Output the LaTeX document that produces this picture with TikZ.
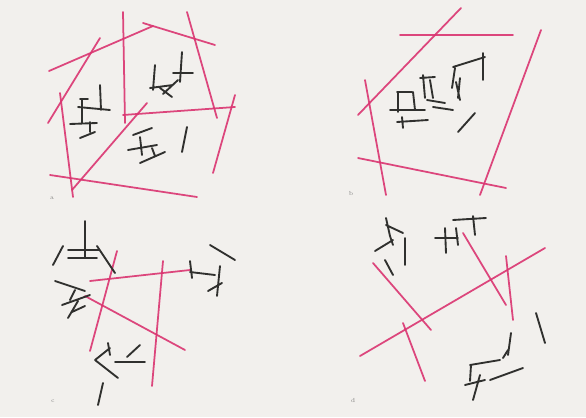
\documentclass[tikz,border=0pt]{standalone}
\usepackage{tikz}
\usepackage{xcolor}
\definecolor{paper}{RGB}{242,240,237}
\definecolor{rose}{RGB}{218,52,112}
\definecolor{ink}{RGB}{48,48,46}

\begin{document}
\begin{tikzpicture}[
x=0.03cm, y=-0.03cm,
pinkline/.style={draw=rose, line width=1.5pt, line cap=round, opacity=0.9},
stroke/.style={draw=ink, line width=1.6pt, line cap=round},
tag/.style={font=\tiny, text=ink!60}
]
\fill[paper] (0,0) rectangle (586,417);
\useasboundingbox (0,0) rectangle (586,417);

% panel a
\draw[pinkline] (49,71) -- (153,26);
\draw[pinkline] (143,23) -- (215,45);
\draw[pinkline] (123,12) -- (125,123);
\draw[pinkline] (187,12) -- (217,118);
\draw[pinkline] (48,123) -- (100,38);
\draw[pinkline] (60,93) -- (73,197);
\draw[pinkline] (50,175) -- (197,197);
\draw[pinkline] (72,190) -- (147,103);
\draw[pinkline] (123,115) -- (235,107);
\draw[pinkline] (235,95) -- (213,173);
\draw[stroke] (100,85) -- (101,110) (78,107) -- (110,110) (82,100) -- (82,123)
  (80,99) -- (88,99) (70,124) -- (97,123) (90,122) -- (90,132) (80,138) -- (95,132);
\draw[stroke] (155,65) -- (153,90) (182,52) -- (180,82) (173,73) -- (193,73)
  (150,88) -- (173,85) (163,94) -- (178,80) (160,88) -- (172,97);
\draw[stroke] (133,135) -- (152,128) (128,150) -- (157,145) (140,137) -- (142,155)
  (140,163) -- (165,152) (152,148) -- (155,156) (182,152) -- (187,127);
\node[tag] (taga) at (52,198) {a};

% panel b
\draw[pinkline] (358,115) -- (461,8);
\draw[pinkline] (400,35) -- (513,35);
\draw[pinkline] (365,80) -- (386,195);
\draw[pinkline] (358,158) -- (506,188);
\draw[pinkline] (541,30) -- (480,195);
\draw[stroke] (453,67) -- (485,57) (483,53) -- (483,80) (455,68) -- (452,88)
  (460,78) -- (458,98) (456,82) -- (460,100);
\draw[stroke] (420,78) -- (435,77) (423,75) -- (425,98) (430,80) -- (433,98)
  (397,92) -- (412,92) (398,92) -- (398,112) (413,92) -- (415,110)
  (427,100) -- (445,103) (390,110) -- (425,110) (402,117) -- (403,128)
  (397,122) -- (428,120) (433,107) -- (453,110) (458,132) -- (475,113);
\node[tag] (tagb) at (351,193) {b};

% panel c
\draw[pinkline] (117,251) -- (90,351);
\draw[pinkline] (90,281) -- (190,270);
\draw[pinkline] (163,261) -- (152,386);
\draw[pinkline] (85,296) -- (185,350);
\draw[stroke] (85,221) -- (85,258) (68,250) -- (100,250) (68,258) -- (97,258)
  (53,265) -- (63,246) (97,246) -- (115,273);
\draw[stroke] (55,281) -- (85,291) (62,305) -- (90,295) (68,318) -- (78,301)
  (72,312) -- (85,306) (75,290) -- (70,300);
\draw[stroke] (190,261) -- (192,278) (210,245) -- (235,260) (190,272) -- (215,275)
  (220,266) -- (217,296) (208,291) -- (222,283);
\draw[stroke] (108,343) -- (110,355) (95,360) -- (110,348) (95,360) -- (118,378)
  (115,362) -- (145,362) (127,357) -- (140,345) (103,383) -- (98,405);
\node[tag] (tagc) at (53,401) {c};

% panel d
\draw[pinkline] (360,356) -- (545,248);
\draw[pinkline] (373,263) -- (431,330);
\draw[pinkline] (403,323) -- (425,381);
\draw[pinkline] (463,233) -- (506,305);
\draw[pinkline] (506,256) -- (513,320);
\draw[stroke] (386,218) -- (390,236) (386,225) -- (403,233) (390,236) -- (393,245)
  (375,251) -- (393,240) (385,260) -- (393,275) (405,238) -- (405,265);
\draw[stroke] (435,238) -- (458,238) (445,228) -- (446,253) (456,228) -- (458,245)
  (453,220) -- (486,218) (473,216) -- (475,235);
\draw[stroke] (536,313) -- (545,343) (511,333) -- (508,355);
\draw[stroke] (470,365) -- (500,360) (471,365) -- (470,381) (480,375) -- (473,400)
  (490,380) -- (523,368) (465,385) -- (485,380) (503,358) -- (508,350);
\node[tag] (tagd) at (353,400) {d};
\end{tikzpicture}
\end{document}
